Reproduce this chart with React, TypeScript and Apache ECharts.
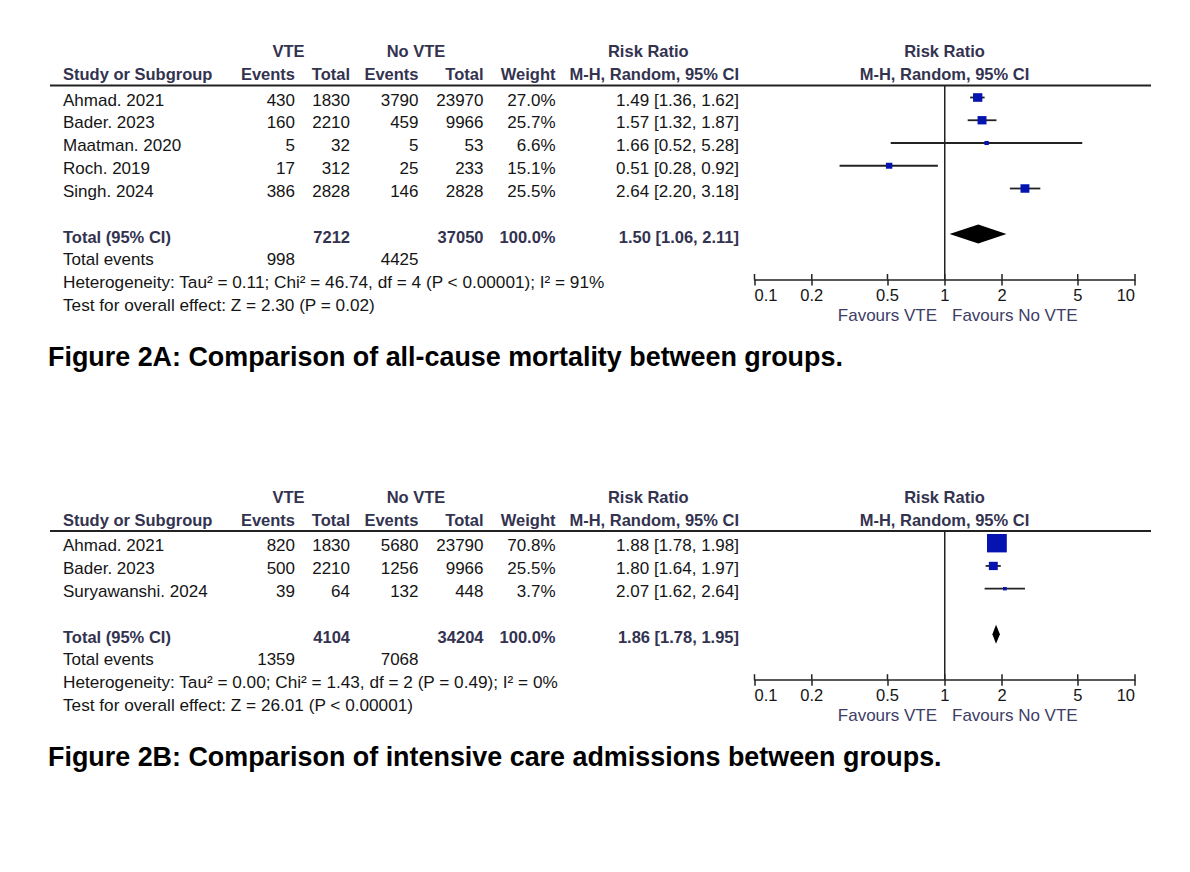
import React, { useEffect, useRef } from "react";
import * as echarts from "echarts";

// ---------------- Panel A data (all-cause mortality) ----------------
const aStudies = ["Ahmad. 2021", "Bader. 2023", "Maatman. 2020", "Roch. 2019", "Singh. 2024"];
const aVteEvents = [430, 160, 5, 17, 386];
const aVteTotals = [1830, 2210, 32, 312, 2828];
const aNoVteEvents = [3790, 459, 5, 25, 146];
const aNoVteTotals = [23970, 9966, 53, 233, 2828];
const aWeights = [27.0, 25.7, 6.6, 15.1, 25.5];
const aRR = [1.49, 1.57, 1.66, 0.51, 2.64];
const aLower = [1.36, 1.32, 0.52, 0.28, 2.2];
const aUpper = [1.62, 1.87, 5.28, 0.92, 3.18];
const aPooled = [1.5, 1.06, 2.11];
const aTotals = [7212, 37050];
const aTotalEvents = [998, 4425];
const aHeterogeneity = "Heterogeneity: Tau² = 0.11; Chi² = 46.74, df = 4 (P < 0.00001); I² = 91%";
const aOverall = "Test for overall effect: Z = 2.30 (P = 0.02)";
const aCaption = "Figure 2A: Comparison of all-cause mortality between groups.";

// ---------------- Panel B data (intensive care admissions) ----------------
const bStudies = ["Ahmad. 2021", "Bader. 2023", "Suryawanshi. 2024"];
const bVteEvents = [820, 500, 39];
const bVteTotals = [1830, 2210, 64];
const bNoVteEvents = [5680, 1256, 132];
const bNoVteTotals = [23790, 9966, 448];
const bWeights = [70.8, 25.5, 3.7];
const bRR = [1.88, 1.8, 2.07];
const bLower = [1.78, 1.64, 1.62];
const bUpper = [1.98, 1.97, 2.64];
const bPooled = [1.86, 1.78, 1.95];
const bTotals = [4104, 34204];
const bTotalEvents = [1359, 7068];
const bHeterogeneity = "Heterogeneity: Tau² = 0.00; Chi² = 1.43, df = 2 (P = 0.49); I² = 0%";
const bOverall = "Test for overall effect: Z = 26.01 (P < 0.00001)";
const bCaption = "Figure 2B: Comparison of intensive care admissions between groups.";

// ---------------- shared labels ----------------
const tickValues = [0.1, 0.2, 0.5, 1, 2, 5, 10];
const tickLabels = ["0.1", "0.2", "0.5", "1", "2", "5", "10"];
const groupHeaders = ["VTE", "No VTE", "Risk Ratio"];
const columnHeaders = ["Study or Subgroup", "Events", "Total", "Events", "Total", "Weight", "M-H, Random, 95% CI"];
const plotHeaders = ["Risk Ratio", "M-H, Random, 95% CI"];
const favourLabels = ["Favours VTE", "Favours No VTE"];
const totalLabel = "Total (95% CI)";
const totalWeight = "100.0%";
const totalEventsLabel = "Total events";

// ---------------- layout / style ----------------
const FONT = 'Arial, "Liberation Sans", sans-serif';
const HEAD_COLOR = "#333350";
const TEXT_COLOR = "#151515";
const FAV_COLOR = "#3d3d66";
const BOX_COLOR = "#0514b0";
const LINE_COLOR = "#222222";
const COL_X = [63, 295, 350, 418.5, 483.5, 555.5, 739];
const COL_ALIGN = ["left", "right", "right", "right", "right", "right", "right"];
const GROUP_X = [288.5, 416, 648.3];
const PLOT_CX = 944.5;
const ROW_STEP = 22.75;
const TEXT_DY = 2.5;
const BODY_SIZE = 17;
const FOOT_SIZE = 17.2;
const HEAD_SIZE = 16.5;
const CAPTION_SIZE = 26.9;
const GRID_LEFT = 754.5;
const GRID_WIDTH = 380.5;

const fmt2 = (v: number) => v.toFixed(2);
const ciText = (r: number, l: number, u: number) => `${fmt2(r)} [${fmt2(l)}, ${fmt2(u)}]`;

function txt(x: number, y: number, text: string, align: string, size: number, weight: string, color: string) {
  return {
    type: "text",
    x,
    y,
    silent: true,
    style: {
      text,
      fill: color,
      fontSize: size,
      fontWeight: weight,
      fontFamily: FONT,
      align,
      verticalAlign: "middle",
      textAlign: align,
      textVerticalAlign: "middle",
    },
  };
}

const panels = [
  {
    lineY: 85.5,
    firstRowY: 97.5,
    studies: aStudies,
    vteEvents: aVteEvents,
    vteTotals: aVteTotals,
    noEvents: aNoVteEvents,
    noTotals: aNoVteTotals,
    weights: aWeights,
    rr: aRR,
    lower: aLower,
    upper: aUpper,
    pooled: aPooled,
    totals: aTotals,
    totalEvents: aTotalEvents,
    heterogeneity: aHeterogeneity,
    overall: aOverall,
    caption: aCaption,
  },
  {
    lineY: 531,
    firstRowY: 543.2,
    studies: bStudies,
    vteEvents: bVteEvents,
    vteTotals: bVteTotals,
    noEvents: bNoVteEvents,
    noTotals: bNoVteTotals,
    weights: bWeights,
    rr: bRR,
    lower: bLower,
    upper: bUpper,
    pooled: bPooled,
    totals: bTotals,
    totalEvents: bTotalEvents,
    heterogeneity: bHeterogeneity,
    overall: bOverall,
    caption: bCaption,
  },
];

function buildOption() {
  const grid: any[] = [];
  const xAxis: any[] = [];
  const yAxis: any[] = [];
  const series: any[] = [];
  const graphic: any[] = [];
  const tickLogs = tickValues.map((v) => Math.log10(v));

  panels.forEach((p, pi) => {
    const n = p.studies.length;
    const totalRow = n + 1;
    const axisY = p.firstRowY + totalRow * ROW_STEP + 45.5;
    const yMin = (p.lineY - p.firstRowY) / ROW_STEP;
    const yMax = (axisY - p.firstRowY) / ROW_STEP;
    const testRowY = p.firstRowY + (n + 4) * ROW_STEP + TEXT_DY;

    grid.push({ left: GRID_LEFT, width: GRID_WIDTH, top: p.lineY, height: axisY - p.lineY, containLabel: false });
    xAxis.push({
      gridIndex: pi,
      type: "value",
      min: -1,
      max: 1,
      splitLine: { show: false },
      axisLine: { show: true, onZero: false, lineStyle: { color: LINE_COLOR, width: 1.5 } },
      axisTick: { show: true, customValues: tickLogs, length: 6, lineStyle: { color: LINE_COLOR, width: 1.5 } },
      axisLabel: {
        show: true,
        customValues: tickLogs,
        margin: 7,
        color: TEXT_COLOR,
        fontSize: HEAD_SIZE,
        fontFamily: FONT,
        alignMinLabel: "left",
        alignMaxLabel: "right",
        formatter: (v: number) => {
          let best = 0;
          tickLogs.forEach((t, i) => {
            if (Math.abs(t - v) < Math.abs(tickLogs[best] - v)) best = i;
          });
          return tickLabels[best];
        },
      },
    });
    yAxis.push({ gridIndex: pi, type: "value", inverse: true, min: yMin, max: yMax, show: false });

    // reference line at RR = 1
    series.push({
      type: "custom",
      xAxisIndex: pi,
      yAxisIndex: pi,
      silent: true,
      data: [[0, yMin]],
      renderItem: (params: any, api: any) => {
        const top = api.coord([api.value(0), yMin]);
        const bot = api.coord([api.value(0), yMax]);
        return {
          type: "line",
          shape: { x1: top[0], y1: top[1], x2: bot[0], y2: bot[1] },
          style: { stroke: LINE_COLOR, lineWidth: 1.5 },
        };
      },
    });

    // upward halves of the axis ticks
    series.push({
      type: "custom",
      xAxisIndex: pi,
      yAxisIndex: pi,
      silent: true,
      data: tickLogs.map((t) => [t, yMax]),
      renderItem: (params: any, api: any) => {
        const pt = api.coord([api.value(0), api.value(1)]);
        return {
          type: "line",
          shape: { x1: pt[0], y1: pt[1], x2: pt[0], y2: pt[1] - 5.5 },
          style: { stroke: LINE_COLOR, lineWidth: 1.5 },
        };
      },
    });

    // study estimates: CI line + weighted box
    series.push({
      type: "custom",
      xAxisIndex: pi,
      yAxisIndex: pi,
      silent: true,
      z: 5,
      data: p.studies.map((_, i) => [Math.log10(p.rr[i]), i, Math.log10(p.lower[i]), Math.log10(p.upper[i]), p.weights[i]]),
      renderItem: (params: any, api: any) => {
        const c = api.coord([api.value(0), api.value(1)]);
        const lo = api.coord([api.value(2), api.value(1)]);
        const hi = api.coord([api.value(3), api.value(1)]);
        const side = 2.8 + 0.24 * api.value(4);
        const h = side * 0.93;
        return {
          type: "group",
          children: [
            { type: "line", shape: { x1: lo[0], y1: c[1], x2: hi[0], y2: c[1] }, style: { stroke: LINE_COLOR, lineWidth: 1.8 } },
            { type: "rect", shape: { x: c[0] - side / 2, y: c[1] - h / 2, width: side, height: h }, style: { fill: BOX_COLOR } },
          ],
        };
      },
    });

    // pooled diamond
    series.push({
      type: "custom",
      xAxisIndex: pi,
      yAxisIndex: pi,
      silent: true,
      z: 5,
      data: [[Math.log10(p.pooled[0]), totalRow, Math.log10(p.pooled[1]), Math.log10(p.pooled[2])]],
      renderItem: (params: any, api: any) => {
        const c = api.coord([api.value(0), api.value(1)]);
        const lo = api.coord([api.value(2), api.value(1)]);
        const hi = api.coord([api.value(3), api.value(1)]);
        const hh = 9.5;
        return {
          type: "polygon",
          shape: { points: [[lo[0], c[1]], [c[0], c[1] - hh], [hi[0], c[1]], [c[0], c[1] + hh]] },
          style: { fill: "#000000" },
        };
      },
    });

    // table: study rows
    series.push({
      type: "custom",
      xAxisIndex: pi,
      yAxisIndex: pi,
      silent: true,
      data: p.studies.map((_, i) => [0, i]),
      renderItem: (params: any, api: any) => {
        const i = params.dataIndex;
        const y = api.coord([0, api.value(1)])[1] + TEXT_DY;
        const cells = [
          p.studies[i],
          String(p.vteEvents[i]),
          String(p.vteTotals[i]),
          String(p.noEvents[i]),
          String(p.noTotals[i]),
          p.weights[i].toFixed(1) + "%",
          ciText(p.rr[i], p.lower[i], p.upper[i]),
        ];
        return {
          type: "group",
          children: cells.map((t, c) => txt(COL_X[c], y, t, COL_ALIGN[c], BODY_SIZE, "normal", TEXT_COLOR)),
        };
      },
    });

    // table: total row
    series.push({
      type: "custom",
      xAxisIndex: pi,
      yAxisIndex: pi,
      silent: true,
      data: [[0, totalRow]],
      renderItem: (params: any, api: any) => {
        const y = api.coord([0, api.value(1)])[1] + TEXT_DY;
        const cells = [
          totalLabel,
          "",
          String(p.totals[0]),
          "",
          String(p.totals[1]),
          totalWeight,
          ciText(p.pooled[0], p.pooled[1], p.pooled[2]),
        ];
        return {
          type: "group",
          children: cells.map((t, c) => txt(COL_X[c], y, t, COL_ALIGN[c], HEAD_SIZE, "bold", HEAD_COLOR)),
        };
      },
    });

    // table: footer rows
    series.push({
      type: "custom",
      xAxisIndex: pi,
      yAxisIndex: pi,
      silent: true,
      data: [[0, n + 2], [0, n + 3], [0, n + 4]],
      renderItem: (params: any, api: any) => {
        const i = params.dataIndex;
        const y = api.coord([0, api.value(1)])[1] + TEXT_DY;
        let children: any[];
        if (i === 0) {
          children = [
            txt(COL_X[0], y, totalEventsLabel, "left", BODY_SIZE, "normal", TEXT_COLOR),
            txt(COL_X[1], y, String(p.totalEvents[0]), "right", BODY_SIZE, "normal", TEXT_COLOR),
            txt(COL_X[3], y, String(p.totalEvents[1]), "right", BODY_SIZE, "normal", TEXT_COLOR),
          ];
        } else {
          children = [txt(COL_X[0], y, i === 1 ? p.heterogeneity : p.overall, "left", FOOT_SIZE, "normal", TEXT_COLOR)];
        }
        return { type: "group", children };
      },
    });

    // headers
    const h1 = p.lineY - 34.5;
    const h2 = p.lineY - 11.5;
    groupHeaders.forEach((t, i) => graphic.push(txt(GROUP_X[i], h1, t, "center", HEAD_SIZE, "bold", HEAD_COLOR)));
    columnHeaders.forEach((t, c) => graphic.push(txt(COL_X[c], h2, t, COL_ALIGN[c], HEAD_SIZE, "bold", HEAD_COLOR)));
    graphic.push(txt(PLOT_CX, h1, plotHeaders[0], "center", HEAD_SIZE, "bold", HEAD_COLOR));
    graphic.push(txt(PLOT_CX, h2, plotHeaders[1], "center", HEAD_SIZE, "bold", HEAD_COLOR));
    graphic.push({
      type: "line",
      silent: true,
      shape: { x1: 50, y1: p.lineY, x2: 1151, y2: p.lineY },
      style: { stroke: LINE_COLOR, lineWidth: 2 },
    });
    graphic.push(txt(PLOT_CX - 7.5, axisY + 36, favourLabels[0], "right", BODY_SIZE, "normal", FAV_COLOR));
    graphic.push(txt(PLOT_CX + 7.5, axisY + 36, favourLabels[1], "left", BODY_SIZE, "normal", FAV_COLOR));
    graphic.push(txt(48, testRowY + 52.5, p.caption, "left", CAPTION_SIZE, "bold", "#000000"));
  });

  return {
    animation: false,
    backgroundColor: "#ffffff",
    textStyle: { fontFamily: FONT },
    grid,
    xAxis,
    yAxis,
    series,
    graphic: { elements: graphic },
  };
}

export default function App() {
  const ref = useRef<HTMLDivElement | null>(null);
  useEffect(() => {
    document.body.style.margin = "0";
    if (!ref.current) return;
    const chart = echarts.init(ref.current, undefined, { renderer: "svg" });
    chart.setOption(buildOption() as any);
    return () => chart.dispose();
  }, []);
  return <div ref={ref} style={{ width: 1190, height: 872 }} />;
}
